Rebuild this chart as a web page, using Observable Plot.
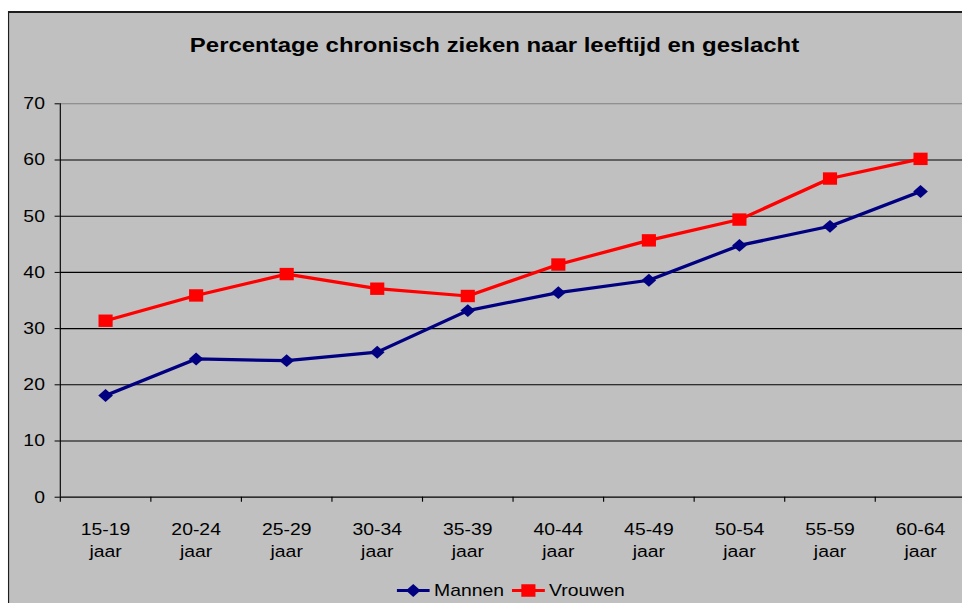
<!DOCTYPE html>
<html>
<head>
<meta charset="utf-8">
<script src="https://cdn.jsdelivr.net/npm/d3@7"></script>
<script src="https://cdn.jsdelivr.net/npm/@observablehq/plot@0.6"></script>
<style>
  html, body { margin: 0; padding: 0; background: #fff; width: 962px; height: 603px; overflow: hidden; }
  #wrap { position: absolute; left: 0; top: 0; width: 844px; height: 603px; transform: scaleX(1.14); transform-origin: 0 0;
          font-family: "Liberation Sans", Arial, sans-serif; color: #000; }
  #bg { position: absolute; left: 7.02px; top: 11px; width: 900px; height: 640px; background: #c0c0c0;
        border-left: 1.75px solid #1e1e1e; border-top: 2px solid #1e1e1e; }
  #title { position: absolute; left: 0; width: 867.6px; top: 33.9px; text-align: center; font-weight: bold;
           font-size: 21px; line-height: 21px; white-space: nowrap; }
  #plot { position: absolute; left: 0; top: 80px; width: 860px; height: 500px; }
  #plot svg { max-width: none !important; display: block; }
  #legend { position: absolute; left: 348.2px; top: 582px; height: 17px; display: flex; align-items: center;
            font-size: 17px; line-height: 17px; white-space: nowrap; }
  #legend .item { display: flex; align-items: center; }
  #legend .item + .item { margin-left: 7px; }
  #legend svg { display: block; margin-right: 3.5px; }
</style>
</head>
<body>
<div id="wrap">
  <div id="bg"></div>
  <div id="title">Percentage chronisch zieken naar leeftijd en geslacht</div>
  <div id="plot"></div>
  <div id="legend"></div>
</div>
<script>
const categories = ["15-19\njaar", "20-24\njaar", "25-29\njaar", "30-34\njaar", "35-39\njaar",
                    "40-44\njaar", "45-49\njaar", "50-54\njaar", "55-59\njaar", "60-64\njaar"];
const mannen  = [18.1, 24.6, 24.3, 25.8, 33.2, 36.4, 38.6, 44.8, 48.2, 54.4];
const vrouwen = [31.4, 35.9, 39.7, 37.1, 35.8, 41.4, 45.7, 49.4, 56.7, 60.2];
const yTicks = [0, 10, 20, 30, 40, 50, 60, 70];
const seriesNames = ["Mannen", "Vrouwen"];

const colors = { Mannen: "#000080", Vrouwen: "#FF0000" };
const symbols = { Mannen: "diamond2", Vrouwen: "square" };
const radii = { Mannen: 5.8, Vrouwen: 7.0 };

const rowsM = categories.map((c, i) => ({ i, cat: c, value: mannen[i] }));
const rowsV = categories.map((c, i) => ({ i, cat: c, value: vrouwen[i] }));
const boundaries = d3.range(categories.length + 1);
const xc = d => d.i + 0.5;

const W = 860, H = 500;
const chart = Plot.plot({
  width: W,
  height: H,
  marginLeft: 52.4,
  marginRight: W - 846.7,
  marginTop: 23.3,
  marginBottom: 83.3,
  style: { background: "transparent", color: "#000", fontFamily: "'Liberation Sans', Arial, sans-serif", fontSize: "17px", overflow: "visible", maxWidth: "none" },
  x: { domain: [0, categories.length], axis: null, label: null },
  y: { domain: [0, 70], axis: null, label: null },
  marks: [
    Plot.ruleY(yTicks.filter(t => t > 0), { stroke: t => t === 70 ? "#808080" : "#000", strokeWidth: 1.1 }),
    Plot.axisY({ ticks: yTicks, tickSize: 4.5, tickPadding: 9, fontSize: 17, tickFormat: d3.format("d"), label: null, stroke: "#000", strokeOpacity: 1 }),
    Plot.axisX({ ticks: boundaries, tickSize: 5, tickFormat: () => "", label: null, stroke: "#000", strokeOpacity: 1 }),
    Plot.ruleY([0], { stroke: "#000", strokeWidth: 1.2 }),
    Plot.ruleX([0], { stroke: "#000", strokeWidth: 1 }),
    Plot.text(rowsM, { x: xc, y: () => 0, text: d => d.cat, lineAnchor: "top", dy: 21.3, lineHeight: 1.335, fontSize: 17, fill: "#000" }),
    Plot.line(rowsM, { x: xc, y: "value", stroke: colors.Mannen, strokeWidth: 3.2 }),
    Plot.line(rowsV, { x: xc, y: "value", stroke: colors.Vrouwen, strokeWidth: 3.2 }),
    Plot.dot(rowsM, { x: xc, y: "value", symbol: symbols.Mannen, r: radii.Mannen, fill: colors.Mannen, stroke: "none" }),
    Plot.dot(rowsV, { x: xc, y: "value", symbol: symbols.Vrouwen, r: radii.Vrouwen, fill: colors.Vrouwen, stroke: "none" })
  ]
});
document.getElementById("plot").appendChild(chart);

// Legend
const legend = d3.select("#legend");
const symMap = { diamond2: d3.symbolDiamond2, square: d3.symbolSquare };
seriesNames.forEach(name => {
  const item = legend.append("div").attr("class", "item");
  const sw = item.append("svg").attr("width", 29).attr("height", 17);
  sw.append("line").attr("x1", 0).attr("x2", 29).attr("y1", 8.5).attr("y2", 8.5)
    .attr("stroke", colors[name]).attr("stroke-width", 3.2);
  const r = radii[name];
  sw.append("path").attr("transform", "translate(14.5,8.5)")
    .attr("d", d3.symbol(symMap[symbols[name]], r * r * Math.PI)())
    .attr("fill", colors[name]);
  item.append("span").text(name);
});
</script>
</body>
</html>
